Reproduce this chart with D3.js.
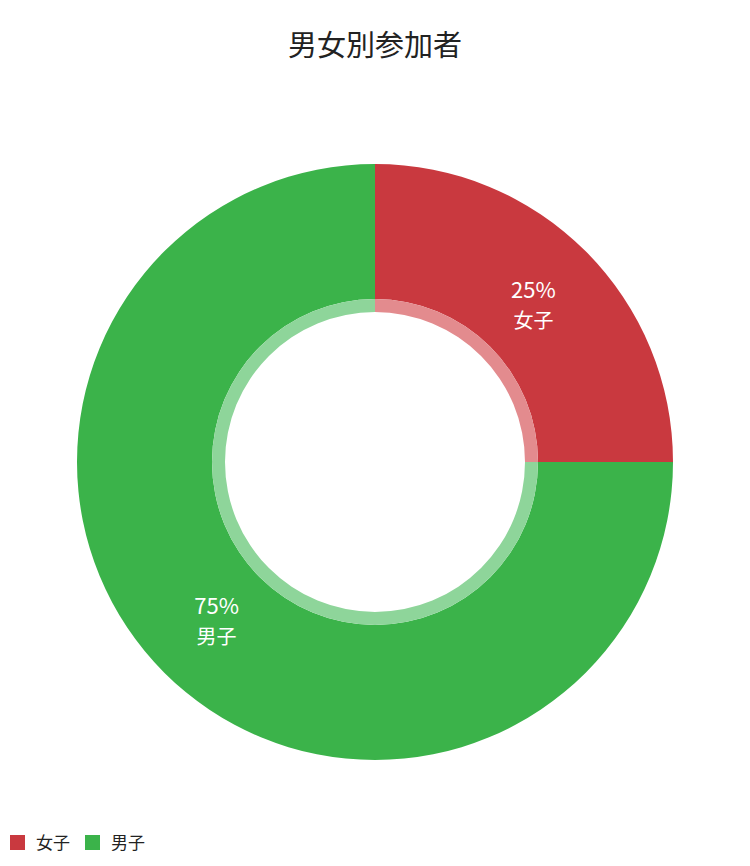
<!DOCTYPE html>
<html><head><meta charset="utf-8">
<script src="https://cdn.jsdelivr.net/npm/d3@7"></script>
<style>body{margin:0;background:#fff;font-family:"Noto Sans CJK JP","Noto Sans",sans-serif;}</style>
</head><body>
<svg id="c" width="750" height="866"></svg>
<script>
const categories = ["女子","男子"];
const values = [25, 75];
const colors = ["#C9393F","#3BB34A"];
const lightColors = ["#E38B8E","#8ED59A"];
const title = "男女別参加者";

const svg = d3.select("#c");
const cx = 375, cy = 462, R = 298, rMid = 163, rIn = 150;
svg.append("text").attr("x",375).attr("y",56).attr("text-anchor","middle")
  .attr("font-size",29).attr("fill","#222").text(title);
const pie = d3.pie().sort(null)(values);
const g = svg.append("g").attr("transform",`translate(${cx},${cy})`);
const outer = d3.arc().innerRadius(rMid).outerRadius(R);
const inner = d3.arc().innerRadius(rIn).outerRadius(rMid);
g.selectAll("path.o").data(pie).join("path").attr("d",outer).attr("fill",(d,i)=>colors[i]);
g.selectAll("path.i").data(pie).join("path").attr("d",inner).attr("fill",(d,i)=>lightColors[i]);
const lab = d3.arc().innerRadius(224).outerRadius(224);
pie.forEach((d,i)=>{
  const [x,y]=lab.centroid(d);
  const t=g.append("text").attr("text-anchor","middle").attr("fill","#fff").attr("font-size",22);
  t.append("tspan").attr("x",x).attr("y",y-6).text(values[i]+"%");
  t.append("tspan").attr("x",x).attr("y",y+24).attr("font-size",20).text(categories[i]);
});
const lg = svg.append("g").attr("transform","translate(10,835)");
let x=0;
categories.forEach((c,i)=>{
  lg.append("rect").attr("x",x).attr("y",0).attr("width",15).attr("height",15).attr("fill",colors[i]);
  lg.append("text").attr("x",x+26).attr("y",14).attr("font-size",17).attr("fill","#222").text(c);
  x+=75;
});
</script></body></html>
